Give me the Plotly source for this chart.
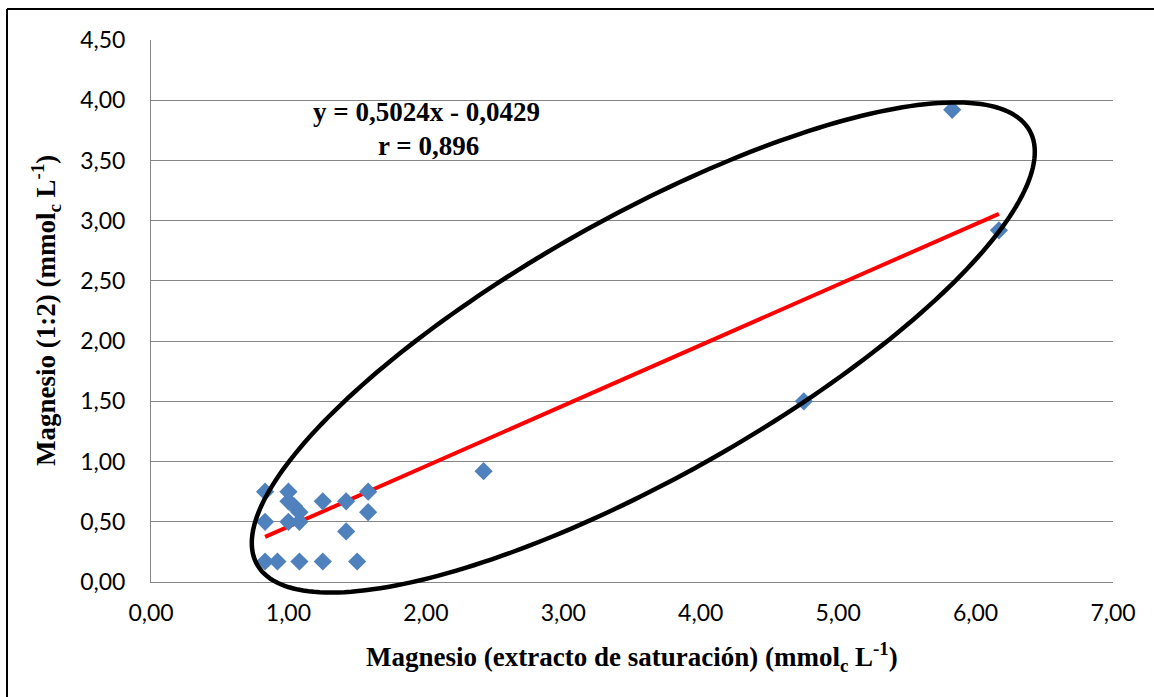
import numpy as np
import plotly.graph_objects as go

# ---- data ----
mg_extracto = [0.83, 1.00, 1.00, 1.04, 1.08, 1.00, 1.08, 0.83, 1.25, 1.42, 1.58,
               1.58, 1.42, 0.83, 0.92, 1.08, 1.25, 1.50, 2.42, 4.75, 5.83, 6.17]
mg_12 = [0.75, 0.75, 0.67, 0.63, 0.58, 0.50, 0.50, 0.50, 0.67, 0.67, 0.75,
         0.58, 0.42, 0.17, 0.17, 0.17, 0.17, 0.17, 0.92, 1.50, 3.92, 2.92]
slope = 0.5024
intercept = -0.0429
x_ticks = [0, 1, 2, 3, 4, 5, 6, 7]
y_ticks = [0, 0.5, 1, 1.5, 2, 2.5, 3, 3.5, 4, 4.5]

# ---- figure geometry ----
W, H = 1154, 697
ML, MR, MT, MB = 151, 41, 40, 115
XMAX, YMAX = 7.0, 4.5
pw, ph = W - ML - MR, H - MT - MB

fig = go.Figure()

# trend line across the data range
xl = np.array([min(mg_extracto), max(mg_extracto)])
fig.add_trace(go.Scatter(x=xl, y=slope * xl + intercept, mode="lines",
                         line=dict(color="#FF0000", width=4), hoverinfo="skip",
                         showlegend=False))

# data points
fig.add_trace(go.Scatter(x=mg_extracto, y=mg_12, mode="markers",
                         marker=dict(symbol="diamond", size=14, color="#4F81BD",
                                     line=dict(width=0)),
                         showlegend=False))

# hand-drawn ellipse (annotation), built in plot-pixel space -> paper fractions
cx_px, cy_px = 643.25 - 150.7, 581.5 - 347.25
a_px, b_px, ang = 443.1, 130.4, np.deg2rad(29.28)
t = np.linspace(0, 2 * np.pi, 240)
ex = cx_px + a_px * np.cos(t) * np.cos(ang) - b_px * np.sin(t) * np.sin(ang)
ey = cy_px + a_px * np.cos(t) * np.sin(ang) + b_px * np.sin(t) * np.cos(ang)
# convert to data units then to paper fractions (unclipped shape)
exd, eyd = ex / 137.5, ey / 120.3
px_, py_ = exd / XMAX, eyd / YMAX
path = "M " + " L ".join(f"{a:.5f},{b:.5f}" for a, b in zip(px_, py_)) + " Z"

serif = dict(family="Liberation Serif", size=27, color="black", weight="bold")
tickfont = dict(family="Lato", size=23, color="black")

fig.update_layout(
    width=W, height=H, autosize=False,
    margin=dict(l=ML, r=MR, t=MT, b=MB),
    paper_bgcolor="white", plot_bgcolor="white",
    separators=",.",
    xaxis=dict(range=[0, XMAX], tickvals=x_ticks, tickformat=".2f",
               showgrid=False, zeroline=False, showline=True,
               linecolor="#868686", linewidth=1, ticks="",
               tickfont=tickfont, ticklabelstandoff=10),
    yaxis=dict(range=[0, YMAX], tickvals=y_ticks, tickformat=".2f",
               showgrid=True, gridcolor="#868686", gridwidth=1,
               zeroline=False, showline=True, linecolor="#868686", linewidth=1,
               ticks="", tickfont=tickfont, ticklabelstandoff=20),
    annotations=[
        dict(text="Magnesio (extracto de saturación) (mmol<sub>c</sub> L<sup>-1</sup>)",
             xref="paper", yref="paper", x=0.5, y=-(657 - (MT + ph)) / ph,
             xanchor="center", yanchor="middle", showarrow=False, font=serif),
        dict(text="Magnesio (1:2) (mmol<sub>c</sub> L<sup>-1</sup>)",
             xref="paper", yref="paper", x=(46 - ML) / pw, y=0.5, textangle=-90,
             xanchor="center", yanchor="middle", showarrow=False, font=serif),
        dict(text="y = 0,5024x - 0,0429", xref="paper", yref="paper",
             x=(426 - ML) / pw, y=(MT + ph - 112) / ph,
             xanchor="center", yanchor="middle", showarrow=False, font=serif),
        dict(text="r = 0,896", xref="paper", yref="paper",
             x=(428 - ML) / pw, y=(MT + ph - 146) / ph,
             xanchor="center", yanchor="middle", showarrow=False, font=serif),
    ],
    shapes=[
        dict(type="path", xref="paper", yref="paper", path=path,
             line=dict(color="black", width=4.5), fillcolor="rgba(0,0,0,0)",
             layer="above"),
        dict(type="line", xref="paper", yref="paper",
             x0=(7 - ML) / pw, x1=(W + 5 - ML) / pw,
             y0=(MT + ph - 9) / ph, y1=(MT + ph - 9) / ph,
             line=dict(color="black", width=2)),
        dict(type="line", xref="paper", yref="paper",
             x0=(7 - ML) / pw, x1=(7 - ML) / pw,
             y0=(MT + ph - 9) / ph, y1=(MT + ph - H - 5) / ph,
             line=dict(color="black", width=2)),
    ],
)

fig.write_html("out.html")
